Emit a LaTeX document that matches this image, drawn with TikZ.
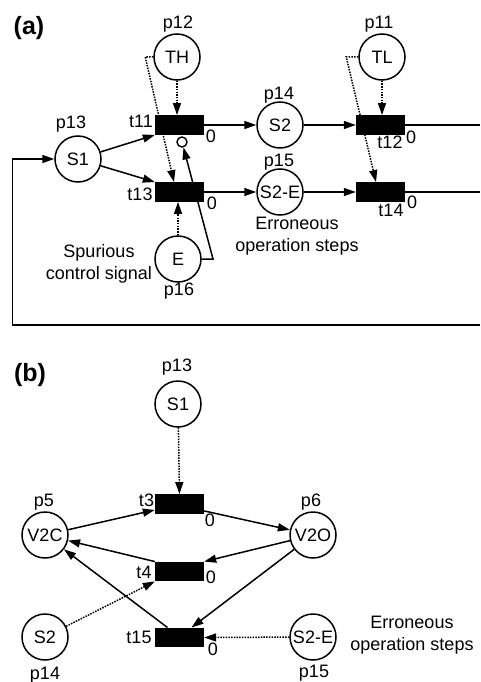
\documentclass[tikz,border=0pt]{standalone}
\usepackage{fontspec}
\setmainfont{Liberation Sans}
\usetikzlibrary{arrows.meta,backgrounds,calc}
\begin{document}
\begin{tikzpicture}[x=1pt,y=-1pt,
  place/.style={circle,draw,line width=1.5pt,minimum size=46pt,inner sep=0pt,font=\fontsize{18}{21}\selectfont},
  trans/.style={rectangle,fill=black,draw=none,minimum width=49pt,minimum height=19.5pt,inner sep=0pt},
  lbl/.style={inner sep=0pt,font=\fontsize{18}{21}\selectfont},
  note/.style={inner sep=0pt,align=center,font=\fontsize{18}{22}\selectfont},
  panel/.style={inner sep=0pt,font=\fontsize{25}{28}\selectfont\bfseries},
  arr/.style={line width=1.5pt,-{Triangle[length=12pt,width=8pt]}},
  ln/.style={line width=1.5pt},
  dotarr/.style={line width=1.5pt,dash pattern=on 1.5pt off 1.2pt,-{Triangle[length=12pt,width=8pt]}},
  inhib/.style={circle,draw,fill=white,line width=1.4pt,minimum size=10pt,inner sep=0pt}]
\useasboundingbox (0,0) rectangle (480,682);

% ---------- panel (a) ----------
\node[panel] (pa) at (29,28) {(a)};
\node[place] (TH) at (177,57) {TH};
\node[place] (TL) at (382,57) {TL};
\node[place] (S1) at (78,159) {S1};
\node[place] (S2) at (280,125) {S2};
\node[place] (S2E) at (280,192) {S2-E};
\node[place] (E) at (178,259) {E};
\node[trans] (t11) at (179.5,125) {};
\node[trans] (t12) at (380.5,125) {};
\node[trans] (t13) at (179.5,192) {};
\node[trans] (t14) at (380.5,192) {};
\node[inhib] (inh) at (182,142) {};

\node[lbl] (lp12) at (178,24) {p12};
\node[lbl] (lp11) at (379,24) {p11};
\node[lbl] (lp13) at (71,124) {p13};
\node[lbl] (lp14) at (279,95) {p14};
\node[lbl] (lp15) at (279,162) {p15};
\node[lbl] (lp16) at (179,291) {p16};
\node[lbl] (lt11) at (141,121) {t11};
\node[lbl] (lt13) at (140,194) {t13};
\node[lbl] (lt12) at (390,142) {t12};
\node[lbl] (lt14) at (391,210) {t14};
\node[lbl] (z11) at (211,136) {0};
\node[lbl] (z13) at (212,203) {0};
\node[lbl] (z12) at (411,137) {0};
\node[lbl] (z14) at (412,202) {0};
\node[note] (spur) at (99,264) {Spurious\\control signal};
\node[note] (err1) at (297,236) {Erroneous\\operation steps};

\coordinate (r1) at (480,125);
\coordinate (r2) at (480,192);
\coordinate (fbR) at (480,325);
\coordinate (fbL) at (12.5,325);
\coordinate (ik) at (213,259);

% ---------- panel (b) ----------
\node[panel] (pb) at (30,375) {(b)};
\node[place] (S1b) at (178,404) {S1};
\node[place] (V2C) at (45,535) {V2C};
\node[place] (V2O) at (313,535) {V2O};
\node[place] (S2b) at (45,637) {S2};
\node[place] (S2Eb) at (313,637) {S2-E};
\node[trans] (t3) at (179.5,504) {};
\node[trans] (t4) at (179.5,571.5) {};
\node[trans] (t15) at (179.5,637.5) {};

\node[lbl] (lp13b) at (177,367) {p13};
\node[lbl] (lp5) at (44,502.5) {p5};
\node[lbl] (lp6) at (311,502.5) {p6};
\node[lbl] (lp14b) at (45,675) {p14};
\node[lbl] (lp15b) at (314,673) {p15};
\node[lbl] (lt3) at (146.5,500) {t3};
\node[lbl] (lt4) at (144,572) {t4};
\node[lbl] (lt15) at (139,637) {t15};
\node[lbl] (z3) at (210,520) {0};
\node[lbl] (z4) at (211,577) {0};
\node[lbl] (z15) at (213,649) {0};
\node[note] (err2) at (412,635) {Erroneous\\operation steps};

\begin{pgfonlayer}{background}
% panel (a) connectors
\draw[arr] (S1) -- (t11.south west);
\draw[arr] (S1) -- (t13.north west);
\draw[arr] (t11.east) -- (S2);
\draw[arr] (S2) -- (t12.west);
\draw[ln] (t12.east) -- (r1);
\draw[arr] (t13.east) -- (S2E);
\draw[arr] (S2E) -- (t14.west);
\draw[ln] (t14.east) -- (r2);
\draw[arr] (fbR) -- (fbL) |- (S1);
\draw[dotarr] (TH) -- (TH |- t11.north);
\draw[dotarr] (TL) -- (TL |- t12.north);
\draw[dotarr] (E) -- (E |- t13.south);
\draw[dotarr] (TH.west) -- ++(-8,0) -- ([xshift=-5.5pt]t13.north);
\draw[dotarr] (TL.west) -- ++(-12,0) -- ([xshift=-4.5pt]t14.north);
\draw[arr] (E.east) -- (ik) -- (inh);
% panel (b) connectors
\draw[dotarr] (S1b) -- (t3.north);
\draw[arr] (V2C) -- ([yshift=4pt]t3.south west);
\draw[arr] ([yshift=3pt]t3.south east) -- (V2O);
\draw[arr] (V2O) -- (t4.north east);
\draw[arr] (t4.north west) -- (V2C);
\draw[arr] (V2O) -- ([xshift=12pt]t15.north);
\draw[arr] ([xshift=-12pt]t15.north) -- (V2C);
\draw[dotarr] (S2b) -- (t4.south west);
\draw[dotarr] (S2Eb) -- (t15.east);
\end{pgfonlayer}
\end{tikzpicture}
\end{document}
